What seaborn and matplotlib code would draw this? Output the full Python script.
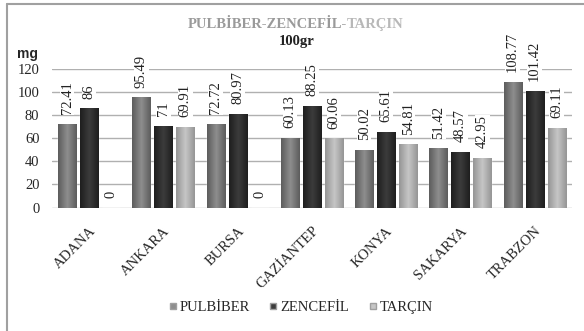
import matplotlib
matplotlib.use("Agg")
import matplotlib.pyplot as plt
import seaborn as sns
import pandas as pd
import numpy as np
from matplotlib.lines import Line2D
from matplotlib.colors import LinearSegmentedColormap

# veriler
cities = ["ADANA", "ANKARA", "BURSA", "GAZİANTEP", "KONYA", "SAKARYA", "TRABZON"]
pulbiber = [72.41, 95.49, 72.72, 60.13, 50.02, 51.42, 108.77]
zencefil = [86, 71, 80.97, 88.25, 65.61, 48.57, 101.42]
tarcin = [0, 69.91, 0, 60.06, 54.81, 42.95, 69.11]
series = ["PULBİBER", "ZENCEFİL", "TARÇIN"]
colors = ["#7c7c7c", "#2f2f2f", "#b5b5b5"]
edge_colors = ["#5c5c5c", "#1e1e1e", "#959595"]
mid_colors = ["#8e8e8e", "#3c3c3c", "#c6c6c6"]

df = pd.DataFrame({
    "city": cities * 3,
    "spice": [s for s in series for _ in cities],
    "value": pulbiber + zencefil + tarcin,
})

sns.set_theme(style="white")
plt.rcParams["font.family"] = ["Liberation Serif", "DejaVu Serif"]

fig = plt.figure(figsize=(5.84, 3.31), dpi=100)
ax = fig.add_axes([0.089, 0.373, 0.890, 0.418])

sns.barplot(data=df, x="city", y="value", hue="spice", palette=colors,
            width=0.888, gap=0.18, ax=ax, legend=False, saturation=1)

ax.yaxis.grid(True, color="#b0b0b0", linewidth=1)
ax.set_axisbelow(True)
for s in ax.spines.values():
    s.set_visible(False)
ax.set_xlabel("")
ax.set_ylabel("")
ax.tick_params(axis="y", labelsize=10.5, pad=9, length=0)
ax.tick_params(axis="x", labelsize=10.5, length=0, pad=12)
plt.setp(ax.get_xticklabels(), rotation=45, ha="right", rotation_mode="anchor")

# sütunlara hafif gölge (3B görünüm)
grad = np.linspace(-1, 1, 64)
for cont, ec, mc in zip(ax.containers, edge_colors, mid_colors):
    cmap = LinearSegmentedColormap.from_list("g", [ec, mc, ec])
    for p in cont.patches:
        x0, y0 = p.get_x(), p.get_y()
        w, h = p.get_width(), p.get_height()
        if h <= 0:
            continue
        im = ax.imshow(np.abs(grad)[None, :] * -1, cmap=cmap, aspect="auto",
                       extent=[x0, x0 + w, y0, y0 + h], zorder=p.get_zorder(),
                       vmin=-1, vmax=1, interpolation="bilinear")
        im.set_clip_path(p)

ax.set_ylim(0, 120)
ax.set_xlim(-0.5, len(cities) - 0.5)
ax.set_yticks(range(0, 121, 20))

# değer etiketleri
for cont, vals in zip(ax.containers, [pulbiber, zencefil, tarcin]):
    ax.bar_label(cont, labels=[f"{v:g}" for v in vals], rotation=90,
                 padding=7, fontsize=10.5, color="#222222",
                 bbox=dict(facecolor="white", edgecolor="none", pad=0.5))

# başlık (iki renkli)
fig.text(0.594, 0.925, "PULBİBER-ZENCEFİL-", ha="right", va="center",
         fontsize=10.5, fontweight="bold", color="#9a9a9a")
fig.text(0.594, 0.925, "TARÇIN", ha="left", va="center",
         fontsize=10.5, fontweight="bold", color="#b8b8b8")
fig.text(0.508, 0.876, "100gr", ha="center", va="center",
         fontsize=10.5, fontweight="bold", color="#222222")
fig.text(0.029, 0.838, "mg", ha="left", va="center", fontsize=10,
         fontweight="bold", family=["Liberation Sans", "DejaVu Sans"])

# lejant
handles = [Line2D([], [], marker="s", linestyle="none", markersize=5,
                  markerfacecolor=m, markeredgecolor="#a0a0a0") for m in mid_colors]
leg = fig.legend(handles, series, loc="center", bbox_to_anchor=(0.515, 0.07),
                 ncol=3, frameon=False, handletextpad=0.2, handlelength=0.6,
                 columnspacing=1.3, fontsize=10.5)
for t in leg.get_texts():
    t.set_fontfamily(["Liberation Serif", "DejaVu Serif"])

# çerçeve
fig.add_artist(Line2D([0.012, 1], [0.988, 0.988], color="#a0a0a0", linewidth=1.5,
                      transform=fig.transFigure))
fig.add_artist(Line2D([0.012, 0.012], [0, 0.988], color="#a0a0a0", linewidth=1.5,
                      transform=fig.transFigure))

fig.savefig("out.png", dpi=100)
